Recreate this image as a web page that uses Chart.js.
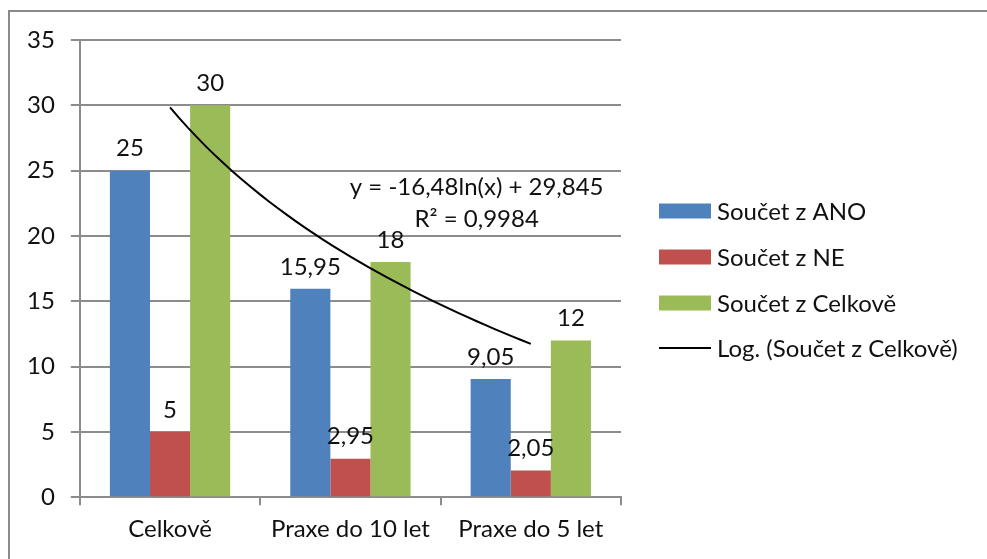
<!DOCTYPE html>
<html>
<head>
<meta charset="utf-8">
<script src="https://cdn.jsdelivr.net/npm/chart.js@4.4.1/dist/chart.umd.min.js"></script>
<style>
  html, body { margin: 0; padding: 0; background: #ffffff; }
  #wrap { width: 987px; height: 559px; position: relative; }
</style>
</head>
<body>
<div id="wrap"><canvas id="chart" width="987" height="559"></canvas></div>
<script>
// Categories and series
const categories = ['Celkově', 'Praxe do 10 let', 'Praxe do 5 let'];
const seriesNames = ['Součet z ANO', 'Součet z NE', 'Součet z Celkově'];
const anoValues = [25, 15.95, 9.05];
const neValues = [5, 2.95, 2.05];
const celkemValues = [30, 18, 12];
const yTickValues = [0, 5, 10, 15, 20, 25, 30, 35];
const trendName = 'Log. (Součet z Celkově)';

const COLORS = ['#4f81bd', '#c0504d', '#9bbb59'];
const GRID = '#8c8c8c';
const TEXT = '#111111';
const FONT_FAMILY = 'Lato, "Open Sans", sans-serif';
const FONT_SIZE = 24;

// Logarithmic least-squares fit y = a*ln(x) + b over x = 1..n (Excel style trendline)
function logFit(values) {
  const n = values.length;
  const lx = values.map((_, i) => Math.log(i + 1));
  const mx = lx.reduce((s, v) => s + v, 0) / n;
  const my = values.reduce((s, v) => s + v, 0) / n;
  let sxx = 0, sxy = 0, sst = 0;
  for (let i = 0; i < n; i++) {
    sxx += (lx[i] - mx) ** 2;
    sxy += (lx[i] - mx) * (values[i] - my);
    sst += (values[i] - my) ** 2;
  }
  const a = sxy / sxx;
  const b = my - a * mx;
  let sse = 0;
  for (let i = 0; i < n; i++) sse += (values[i] - (a * lx[i] + b)) ** 2;
  return { a, b, r2: 1 - sse / sst };
}
const fit = logFit(celkemValues);
// curve sampled in category-index space (index 0 = x 1)
const trendPoints = [];
for (let k = 0; k <= 40; k++) {
  const x = 1 + k * (celkemValues.length - 1) / 40;
  trendPoints.push({ x: x - 1, y: fit.a * Math.log(x) + fit.b });
}

const cz = (v, d) => (d === undefined ? String(v) : v.toFixed(d)).replace('.', ',');
const eqLine1 = 'y = ' + cz(fit.a, 2) + 'ln(x) + ' + cz(fit.b, 3);
const eqLine2 = 'R² = ' + cz(fit.r2, 4);

// Outer frame of the chart object
const framePlugin = {
  id: 'frame',
  beforeDraw(chart) {
    const ctx = chart.ctx;
    ctx.save();
    ctx.fillStyle = '#ffffff';
    ctx.fillRect(0, 0, chart.width, chart.height);
    ctx.strokeStyle = '#8a8a8a';
    ctx.lineWidth = 2;
    ctx.strokeRect(9, 11, chart.width + 20, chart.height + 20);
    ctx.restore();
  }
};

// Value labels above the bars and the trendline equation
const valueLabels = {
  id: 'valueLabels',
  afterDatasetsDraw(chart) {
    const ctx = chart.ctx;
    ctx.save();
    ctx.font = FONT_SIZE + 'px ' + FONT_FAMILY;
    ctx.fillStyle = TEXT;
    ctx.textAlign = 'center';
    ctx.textBaseline = 'middle';
    chart.data.datasets.forEach((ds, di) => {
      if (ds.type === 'line') return;
      const meta = chart.getDatasetMeta(di);
      meta.data.forEach((el, i) => {
        ctx.fillText(cz(ds.data[i]), el.x, el.y - 22);
      });
    });
    const xs = chart.scales.x, ys = chart.scales.y;
    const cx = xs.getPixelForValue(1.7);
    ctx.fillText(eqLine1, cx, ys.getPixelForValue(23.7));
    ctx.fillText(eqLine2, cx, ys.getPixelForValue(21.25));
    ctx.restore();
  }
};

// Legend on the right
const sideLegend = {
  id: 'sideLegend',
  afterDraw(chart) {
    const ctx = chart.ctx;
    const x0 = 659, sw = 52, sh = 15, tx = 717;
    const rows = [211, 257, 303, 348];
    ctx.save();
    ctx.font = FONT_SIZE + 'px ' + FONT_FAMILY;
    ctx.textAlign = 'left';
    ctx.textBaseline = 'middle';
    chart.data.datasets.forEach((ds, i) => {
      const y = rows[i];
      if (ds.type === 'line') {
        ctx.strokeStyle = ds.borderColor;
        ctx.lineWidth = 2;
        ctx.beginPath();
        ctx.moveTo(x0, y);
        ctx.lineTo(x0 + sw, y);
        ctx.stroke();
      } else {
        ctx.fillStyle = ds.backgroundColor;
        ctx.fillRect(x0, y - sh / 2, sw, sh);
      }
      ctx.fillStyle = TEXT;
      ctx.fillText(ds.label, tx, y + 1);
    });
    ctx.restore();
  }
};

const barStyle = { categoryPercentage: 0.667, barPercentage: 1, order: 1 };

new Chart(document.getElementById('chart'), {
  type: 'bar',
  data: {
    labels: categories,
    datasets: [
      { label: seriesNames[0], data: anoValues, backgroundColor: COLORS[0], ...barStyle },
      { label: seriesNames[1], data: neValues, backgroundColor: COLORS[1], ...barStyle },
      { label: seriesNames[2], data: celkemValues, backgroundColor: COLORS[2], ...barStyle },
      {
        type: 'line', label: trendName, data: trendPoints, parsing: false,
        borderColor: '#000000', borderWidth: 2, pointRadius: 0, tension: 0,
        fill: false, order: 0
      }
    ]
  },
  options: {
    responsive: false,
    animation: false,
    devicePixelRatio: 1,
    layout: { padding: { left: 11, right: 366, top: 40, bottom: 5 } },
    plugins: { legend: { display: false }, tooltip: { enabled: false } },
    scales: {
      x: {
        type: 'category',
        offset: true,
        grid: { offset: true, drawOnChartArea: false, drawTicks: true, tickLength: 8, color: GRID, lineWidth: 2 },
        border: { color: GRID, width: 2 },
        ticks: { color: TEXT, padding: 10, font: { family: FONT_FAMILY, size: FONT_SIZE } }
      },
      y: {
        min: 0, max: 35,
        afterBuildTicks(scale) { scale.ticks = yTickValues.map(v => ({ value: v })); },
        grid: { color: GRID, lineWidth: 2, tickLength: 9 },
        border: { color: GRID, width: 2 },
        ticks: { color: TEXT, padding: 16, font: { family: FONT_FAMILY, size: FONT_SIZE } }
      }
    }
  },
  plugins: [framePlugin, valueLabels, sideLegend]
});
</script>
</body>
</html>
